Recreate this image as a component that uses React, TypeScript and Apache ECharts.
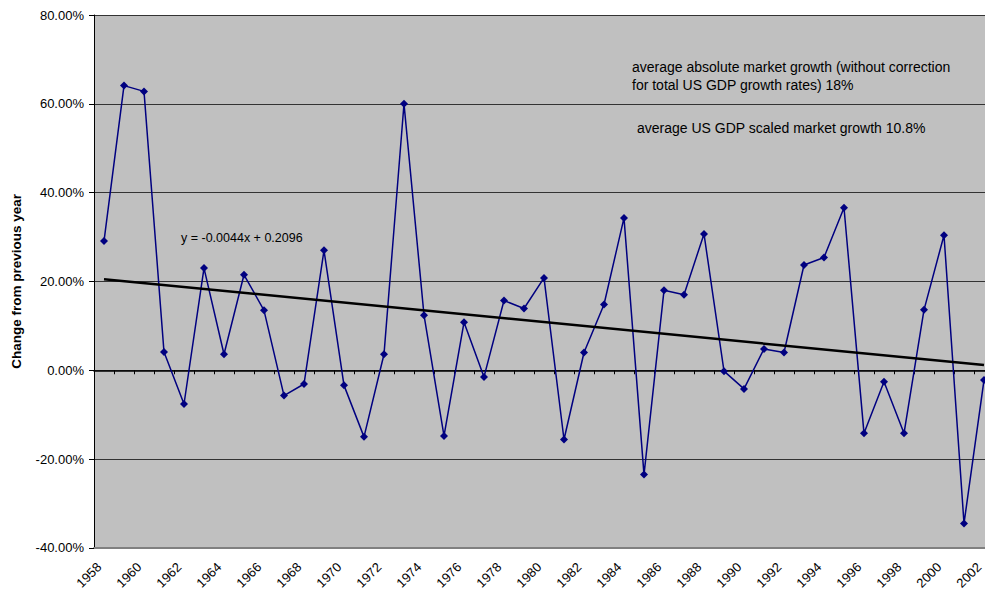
import React, { useEffect, useRef } from "react";
import * as echarts from "echarts";

const years: string[] = [
  "1958","1959","1960","1961","1962","1963","1964","1965","1966","1967",
  "1968","1969","1970","1971","1972","1973","1974","1975","1976","1977",
  "1978","1979","1980","1981","1982","1983","1984","1985","1986","1987",
  "1988","1989","1990","1991","1992","1993","1994","1995","1996","1997",
  "1998","1999","2000","2001","2002",
];

const growth: number[] = [
  29.1, 64.1, 62.8, 4.1, -7.6, 23.0, 3.6, 21.5, 13.5, -5.7,
  -3.1, 27.0, -3.4, -15.0, 3.6, 60.0, 12.4, -14.8, 10.8, -1.5,
  15.7, 13.9, 20.8, -15.6, 4.0, 14.8, 34.3, -23.5, 18.0, 17.0,
  30.7, -0.2, -4.2, 4.8, 4.0, 23.7, 25.4, 36.6, -14.2, -2.6,
  -14.2, 13.6, 30.4, -34.5, -2.2,
];

// Trendline y = -0.0044x + 0.2096 (x = 1..45), in percent at the two ends
const trendSlope = -0.0044;
const trendIntercept = 0.2096;
const trendStart = (trendSlope * 1 + trendIntercept) * 100;
const trendEnd = (trendSlope * years.length + trendIntercept) * 100;

const trendLabel = "y = -0.0044x + 0.2096";
const note1a = "average absolute market growth (without correction";
const note1b = "for total US GDP growth rates) 18%";
const note2 = "average US GDP scaled market growth 10.8%";

export default function App() {
  const ref = useRef<HTMLDivElement>(null);
  useEffect(() => {
    if (!ref.current) return;
    const chart = echarts.init(ref.current, null, { renderer: "svg" });
    const font = "'Liberation Sans', Arial, sans-serif";
    chart.setOption({
      animation: false,
      backgroundColor: "#ffffff",
      textStyle: { fontFamily: font },
      grid: {
        left: 94,
        top: 15,
        right: 0,
        bottom: 44,
        show: true,
        backgroundColor: "#c0c0c0",
        borderWidth: 0,
        containLabel: false,
      },
      xAxis: [
        {
          type: "category",
          data: years,
          position: "bottom",
          boundaryGap: true,
          axisLine: { onZero: false, lineStyle: { color: "#808080", width: 2 } },
          axisTick: { show: false },
          axisLabel: {
            interval: 1,
            rotate: 45,
            margin: 12,
            padding: [0, 7, 0, 0],
            color: "#000",
            fontSize: 13,
            fontFamily: font,
          },
          splitLine: { show: false },
        },
        {
          type: "category",
          data: years,
          position: "top",
          boundaryGap: true,
          axisLine: { onZero: true, onZeroAxisIndex: 0, lineStyle: { color: "#000", width: 1.5 } },
          axisTick: { show: true, interval: 0, inside: true, length: 4, lineStyle: { color: "#000", width: 1 } },
          axisLabel: { show: false, interval: 0 },
          splitLine: { show: false },
        },
      ],
      yAxis: {
        type: "value",
        min: -40,
        max: 80,
        interval: 20,
        name: "Change from previous year",
        nameLocation: "middle",
        nameGap: 71,
        nameTextStyle: { fontWeight: "bold", fontSize: 13.5, color: "#000", fontFamily: font },
        axisLine: { show: true, lineStyle: { color: "#000", width: 1 } },
        axisTick: { show: true, length: 5, lineStyle: { color: "#000" } },
        axisLabel: {
          color: "#000",
          fontSize: 13,
          margin: 10,
          fontFamily: font,
          formatter: (v: number) => v.toFixed(2) + "%",
        },
        splitLine: { show: true, lineStyle: { color: "#333", width: 1 } },
      },
      series: [
        {
          type: "line",
          xAxisIndex: 0,
          data: growth,
          symbol: "diamond",
          symbolSize: 8,
          lineStyle: { color: "#000080", width: 1.5 },
          itemStyle: { color: "#000080" },
          z: 3,
        },
        {
          type: "line",
          xAxisIndex: 1,
          data: [[years[0], trendStart], [years[years.length - 1], trendEnd]],
          symbol: "none",
          lineStyle: { color: "#000", width: 2.5 },
          z: 4,
        },
      ],
      graphic: [
        {
          type: "text",
          left: 181,
          top: 231,
          style: { text: trendLabel, fill: "#000", font: `12.5px ${font}` },
        },
        {
          type: "text",
          left: 632,
          top: 58,
          style: { text: note1a + "\n" + note1b, fill: "#000", font: `14px ${font}`, lineHeight: 18 },
        },
        {
          type: "text",
          left: 637,
          top: 121,
          style: { text: note2, fill: "#000", font: `14px ${font}` },
        },
      ],
    });
    return () => chart.dispose();
  }, []);
  return (
    <div style={{ position: "fixed", left: 0, top: 0, width: 985, height: 592, overflow: "hidden" }}>
      <div ref={ref} style={{ width: 994, height: 592 }} />
    </div>
  );
}
